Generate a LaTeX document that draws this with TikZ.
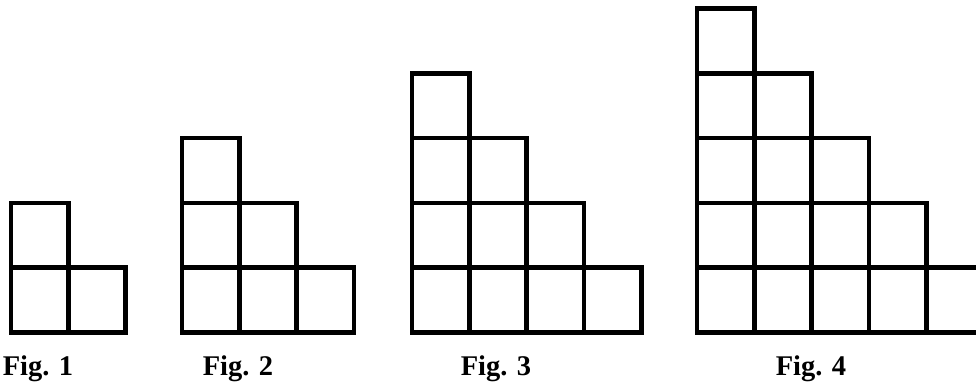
\documentclass[tikz,border=0pt]{standalone}
\usepackage{fontspec}
\setmainfont{Liberation Serif}
\begin{document}
\begin{tikzpicture}[x=1pt,y=-1pt,
  cell/.style={draw=black,line width=4.6pt},
  lab/.style={font=\bfseries\fontsize{28.5}{30}\selectfont, anchor=base, inner sep=0pt}]
\useasboundingbox (0,0) rectangle (976,383);
\clip (0,0) rectangle (976,383);
\def\cw{57.3}
\def\ch{64.8}
\foreach \n/\x in {1/11,2/182,3/412,4/697}{
  \foreach \k in {0,...,\n}{
    \pgfmathtruncatemacro\m{\n-\k}
    \foreach \j in {0,...,\m}{
      \draw[cell] (\x+\j*\cw, 332.5-\k*\ch) rectangle ++(\cw,-\ch);
    }
  }
}
\node[lab] (f1) at (38,375) {Fig. 1};
\node[lab] (f2) at (238,375) {Fig. 2};
\node[lab] (f3) at (496,375) {Fig. 3};
\node[lab] (f4) at (811,375) {Fig. 4};
\end{tikzpicture}
\end{document}
